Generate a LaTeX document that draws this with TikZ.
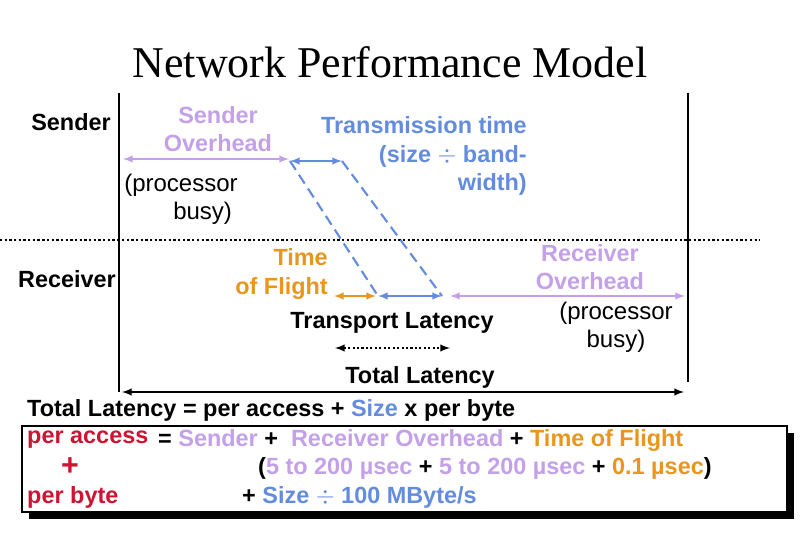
\documentclass[tikz,border=0pt]{standalone}
\usepackage{fontspec}
\setmainfont{Liberation Sans}
\newfontfamily\titlefont{Liberation Serif}
\usetikzlibrary{arrows,calc}
\definecolor{ovh}{RGB}{196,160,232}
\definecolor{tx}{RGB}{100,140,222}
\definecolor{tof}{RGB}{232,150,30}
\definecolor{acc}{RGB}{205,20,50}
\begin{document}
\begin{tikzpicture}[x=0.03cm,y=-0.03cm]
	\path [use as bounding box] (0,0) rectangle (810,540);
	\tikzstyle{every node} = [font=\fontsize{20}{24}\selectfont\bfseries, inner sep=0pt, align=center]
	\tikzstyle{plain} = [font=\fontsize{20.5}{24}\selectfont]
	\tikzstyle{span} = [latex-latex, line width=1.8pt]
	\tikzstyle{txt} = [anchor=west]
	% title and time lines
	\node[font=\titlefont\fontsize{37.5}{40}\selectfont] (title) at (390,62) {Network Performance Model};
	\node (snd) at (71,122) {Sender};
	\node (rcv) at (67,279) {Receiver};
	\coordinate (s0) at (119,93); \coordinate (s1) at (119,392);
	\coordinate (r0) at (688,93); \coordinate (r1) at (688,382);
	\draw[line width=1.8pt] (s0) -- (s1);
	\draw[line width=1.8pt] (r0) -- (r1);
	\coordinate (m0) at (0,240); \coordinate (m1) at (760,240);
	\draw[dotted, line width=2pt] (m0) -- (m1);
	% sender side
	\coordinate (a0) at (123,159); \coordinate (a1) at (289,159);
	\coordinate (b0) at (290,161); \coordinate (b1) at (342,161);
	\draw[span, ovh] (a0) -- (a1);
	\draw[span, tx] (b0) -- (b1);
	\node[ovh] (sovh) at (218,129) {Sender\\Overhead};
	\node[plain] (sbusy) at (181,199) {(processor\\\hspace*{1.8em}busy)};
	\node[tx, align=right, anchor=east] (trans) at (527,156) {Transmission time\\(size \(\div\) band-\\width)};
	% receiver side
	\coordinate (c0) at (378,296); \coordinate (c1) at (442,296);
	\coordinate (d0) at (334,296); \coordinate (d1) at (376,296);
	\coordinate (e0) at (450,296); \coordinate (e1) at (685,296);
	\draw[tx, dashed, line width=1.8pt, dash pattern=on 9pt off 5pt] (b0) -- (c0) (b1) -- (c1);
	\draw[span, tx] (c0) -- (c1);
	\draw[span, tof] (d0) -- (d1);
	\draw[span, ovh] (e0) -- (e1);
	\node[tof, align=right, anchor=east] (flight) at (328,274) {Time\\of Flight};
	\node[ovh] (rovh) at (590,267) {Receiver\\Overhead};
	\node[plain] (rbusy) at (616,327) {(processor\\busy)};
	\node (trl) at (392,323) {Transport Latency};
	\coordinate (f0) at (335,348); \coordinate (f1) at (450,348);
	\draw[latex-latex, dotted, line width=1.8pt] (f0) -- (f1);
	\node (tot) at (420,377) {Total Latency};
	\coordinate (g0) at (122,392); \coordinate (g1) at (684,392);
	\draw[span] (g0) -- (g1);
	% formula
	\node[txt] (eq) at (27,410) {Total Latency = per access + \textcolor{tx}{Size} x per byte};
	\fill (29,433) rectangle (794,519);
	\draw[fill=white, line width=1pt] (22,426) rectangle (787,512);
	\node[txt, acc] (pa) at (27,440) {per access};
	\node[txt] (pa1) at (158,440) {= \textcolor{ovh}{Sender} + \ \textcolor{ovh}{Receiver Overhead} + \textcolor{tof}{Time of Flight}};
	\node[acc, font=\fontsize{26}{26}\selectfont\bfseries] (plus) at (70,467) {+};
	\node[txt] (pa2) at (258,468) {(\textcolor{ovh}{5 to 200 µsec} + \textcolor{ovh}{5 to 200 µsec} + \textcolor{tof}{0.1 µsec})};
	\node[txt, acc] (pb) at (27,497) {per byte};
	\node[txt] (pb1) at (242,497) {+ \textcolor{tx}{Size \(\div\) 100 MByte/s}};
\end{tikzpicture}
\end{document}
